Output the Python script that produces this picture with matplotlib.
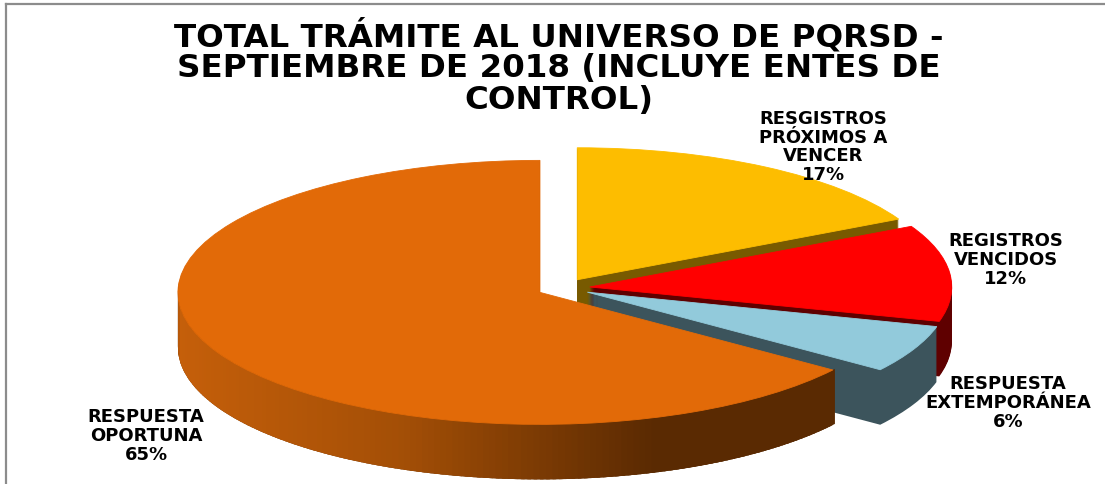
import matplotlib
matplotlib.use("Agg")
import matplotlib.pyplot as plt
from matplotlib.colors import LinearSegmentedColormap
from matplotlib.lines import Line2D
from matplotlib.patches import Polygon, Wedge
import numpy as np

categories = ["RESGISTROS\nPRÓXIMOS A\nVENCER", "REGISTROS\nVENCIDOS", "RESPUESTA\nEXTEMPORÁNEA", "RESPUESTA\nOPORTUNA"]
values = [17.4, 11.8, 5.8, 65.0]
explode = [0.073, 0.073, 0.073, 0.073]
top_colors = ["#FDBD00", "#FF0000", "#92CADB", "#E26A08"]
side_colors = ["#785A00", "#5F0000", "#3C545C", "#5A2A02"]
title_lines = ["TOTAL TRÁMITE AL UNIVERSO DE PQRSD -", "SEPTIEMBRE DE 2018 (INCLUYE ENTES DE", "CONTROL)"]

W, H = 1105, 484
# pixel size of radius 1 and pixel position of the pie centre
rx, ry = 362.0, 132.0
cx, cy = 563.5, 288.0
depth_px = 55

fig = plt.figure(figsize=(W / 100, H / 100), dpi=100, facecolor="white")
ax = fig.add_axes([0, 0, 1, 1])

wedges, _ = ax.pie(values, explode=explode, colors=top_colors, startangle=90, counterclock=False, radius=1)
ax.set_aspect("auto")
ax.set_xlim(-cx / rx, (W - cx) / rx)
ax.set_ylim((cy - H) / ry, cy / ry)
ax.axis("off")

# front wall of the big slice goes from orange to brown, left to right
wall_cmap = LinearSegmentedColormap.from_list(
    "wall", [(0, "#C55F0A"), (0.34, "#A44F06"), (0.54, "#7E3C04"), (0.73, "#5A2A02"), (1, "#5A2A02")])

z = 2
for w, side, top in zip(wedges, side_colors, top_colors):
    # stack of copies below the top face makes the thickness
    for k in range(depth_px, 0, -1):
        ax.add_patch(Wedge((w.center[0], w.center[1] - k / ry), w.r, w.theta1, w.theta2,
                           fc=side, ec="none", zorder=z))
    z += 1
    w.set_edgecolor(top)
    w.set_linewidth(0.6)
    w.set_zorder(z + 1)
    z += 2

big = wedges[-1]
angles = np.radians(np.arange(max(big.theta1, -180), big.theta2 + 1, 1.0))
angles = angles[angles <= np.radians(big.theta2)]
left_x = big.center[0] - big.r
span = big.center[0] + big.r * np.cos(angles[-1]) - left_x
for a0, a1 in zip(angles[:-1], angles[1:]):
    xs = big.center[0] + big.r * np.cos([a0, a1 + 0.01])
    ys = big.center[1] + big.r * np.sin([a0, a1 + 0.01])
    col = wall_cmap((xs.mean() - left_x) / span)
    ax.add_patch(Polygon([(xs[0], ys[0]), (xs[1], ys[1]), (xs[1], ys[1] - depth_px / ry), (xs[0], ys[0] - depth_px / ry)],
                         fc=col, ec="none", zorder=big.get_zorder() - 1))

# frame: only top and left edges are inside the picture
frame = "#8C8C8C"
fig.add_artist(Line2D([6 / W, 1], [1 - 4 / H, 1 - 4 / H], color=frame, lw=1.6))
fig.add_artist(Line2D([6 / W, 6 / W], [1 - 4 / H, 0], color=frame, lw=1.6))

title_y = [36, 69, 101]
for line, y in zip(title_lines, title_y):
    fig.text(559 / W, 1 - y / H, line, ha="center", va="center", fontsize=23.4,
             family="DejaVu Sans", weight="bold", color="black", zorder=20)

label_pos = [(823, 147), (1006, 260), (1008, 403), (146, 436)]
for cat, v, (lx, ly) in zip(categories, values, label_pos):
    fig.text(lx / W, 1 - ly / H, f"{cat}\n{v:.0f}%", ha="center", va="center", fontsize=13,
             family="DejaVu Sans", weight="bold", color="black", linespacing=1.05, zorder=20)

fig.savefig("out.png", dpi=100, facecolor="white")
